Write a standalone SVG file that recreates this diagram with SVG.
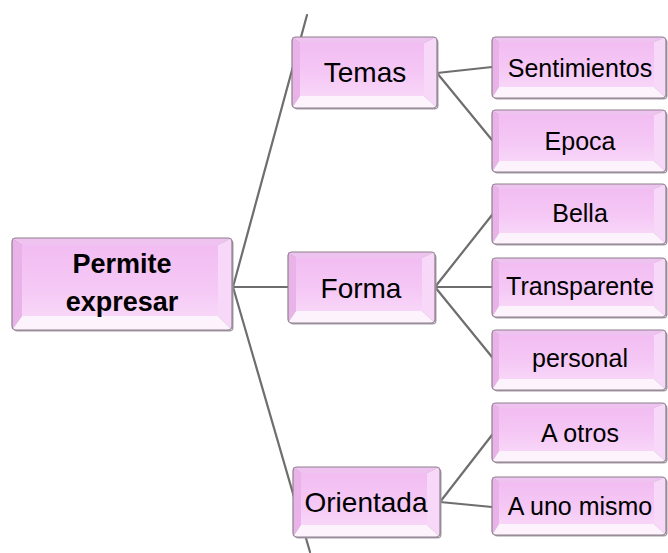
<svg xmlns="http://www.w3.org/2000/svg" width="668" height="553" viewBox="0 0 668 553">
<defs>
<linearGradient id="face" x1="0" y1="0" x2="0" y2="1">
<stop offset="0" stop-color="#f2bdf2"/>
<stop offset="0.6" stop-color="#f5c8f5"/>
<stop offset="1" stop-color="#f8d6f8"/>
</linearGradient>
<style>
.bt{fill:#efc3ef}
.bl{fill:#e9b3e9}
.br{fill:#f8d8f8}
.bb{fill:#fdf3fd}
.fc{fill:url(#face)}
.sh{fill:#a59ba5}
.ol{fill:none;stroke:#8c808c;stroke-width:1.2}
.conn line{stroke:#6e6e6e;stroke-width:2.2;stroke-linecap:round}
text{font-family:"Liberation Sans",Arial,sans-serif;fill:#000;text-anchor:middle}
.leaf{font-size:25px}
.mid{font-size:28px}
.root{font-size:27px;font-weight:bold}
</style>
</defs>
<rect width="668" height="553" fill="#ffffff"/>
<g id="connectors" class="conn">
<line x1="233" y1="287" x2="307" y2="15"/>
<line x1="233" y1="287" x2="310" y2="552"/>
<line x1="233" y1="287" x2="288" y2="287"/>
<line x1="437" y1="73" x2="492" y2="67"/>
<line x1="437" y1="73" x2="492" y2="140"/>
<line x1="435" y1="287" x2="492" y2="215"/>
<line x1="435" y1="287" x2="492" y2="287"/>
<line x1="435" y1="287" x2="492" y2="357"/>
<line x1="440" y1="502" x2="492" y2="435"/>
<line x1="440" y1="502" x2="492" y2="507"/>
</g>
<g id="root">
<rect class="sh" x="13.5" y="239.5" width="220" height="92" rx="4"/>
<polygon class="bt" points="12,238 232,238 218,245 22,245"/>
<polygon class="bl" points="12,238 22,245 22,316 12,330"/>
<polygon class="br" points="232,238 232,330 218,316 218,245"/>
<polygon class="bb" points="12,330 22,316 218,316 232,330"/>
<rect class="fc" x="22" y="245" width="196" height="71"/>
<rect class="ol" x="12" y="238" width="220" height="92" rx="4"/>
<text class="root" x="122" y="273">Permite</text>
<text class="root" x="122" y="311">expresar</text>
</g>
<g id="temas">
<rect class="sh" x="293.5" y="38.5" width="145" height="71" rx="4"/>
<polygon class="bt" points="292,37 437,37 424,43 300,43"/>
<polygon class="bl" points="292,37 300,43 300,96 292,108"/>
<polygon class="br" points="437,37 437,108 424,96 424,43"/>
<polygon class="bb" points="292,108 300,96 424,96 437,108"/>
<rect class="fc" x="300" y="43" width="124" height="53"/>
<rect class="ol" x="292" y="37" width="145" height="71" rx="4"/>
<text class="mid" x="365" y="82">Temas</text>
</g>
<g id="forma">
<rect class="sh" x="289.5" y="253.5" width="147" height="71" rx="4"/>
<polygon class="bt" points="288,252 435,252 422,258 296,258"/>
<polygon class="bl" points="288,252 296,258 296,311 288,323"/>
<polygon class="br" points="435,252 435,323 422,311 422,258"/>
<polygon class="bb" points="288,323 296,311 422,311 435,323"/>
<rect class="fc" x="296" y="258" width="126" height="53"/>
<rect class="ol" x="288" y="252" width="147" height="71" rx="4"/>
<text class="mid" x="361" y="298">Forma</text>
</g>
<g id="orientada">
<rect class="sh" x="294.5" y="468.5" width="147" height="70" rx="4"/>
<polygon class="bt" points="293,467 440,467 427,473 301,473"/>
<polygon class="bl" points="293,467 301,473 301,525 293,537"/>
<polygon class="br" points="440,467 440,537 427,525 427,473"/>
<polygon class="bb" points="293,537 301,525 427,525 440,537"/>
<rect class="fc" x="301" y="473" width="126" height="52"/>
<rect class="ol" x="293" y="467" width="147" height="70" rx="4"/>
<text class="mid" x="366" y="512">Orientada</text>
</g>
<g id="sentimientos">
<rect class="sh" x="493.5" y="38.5" width="174" height="61" rx="4"/>
<polygon class="bt" points="492,37 666,37 654,42 499,42"/>
<polygon class="bl" points="492,37 499,42 499,87 492,98"/>
<polygon class="br" points="666,37 666,98 654,87 654,42"/>
<polygon class="bb" points="492,98 499,87 654,87 666,98"/>
<rect class="fc" x="499" y="42" width="155" height="45"/>
<rect class="ol" x="492" y="37" width="174" height="61" rx="4"/>
<text class="leaf" x="580" y="77">Sentimientos</text>
</g>
<g id="epoca">
<rect class="sh" x="493.5" y="111.5" width="174" height="62" rx="4"/>
<polygon class="bt" points="492,110 666,110 654,115 499,115"/>
<polygon class="bl" points="492,110 499,115 499,161 492,172"/>
<polygon class="br" points="666,110 666,172 654,161 654,115"/>
<polygon class="bb" points="492,172 499,161 654,161 666,172"/>
<rect class="fc" x="499" y="115" width="155" height="46"/>
<rect class="ol" x="492" y="110" width="174" height="62" rx="4"/>
<text class="leaf" x="580" y="150">Epoca</text>
</g>
<g id="bella">
<rect class="sh" x="493.5" y="185.5" width="174" height="60" rx="4"/>
<polygon class="bt" points="492,184 666,184 654,189 499,189"/>
<polygon class="bl" points="492,184 499,189 499,233 492,244"/>
<polygon class="br" points="666,184 666,244 654,233 654,189"/>
<polygon class="bb" points="492,244 499,233 654,233 666,244"/>
<rect class="fc" x="499" y="189" width="155" height="44"/>
<rect class="ol" x="492" y="184" width="174" height="60" rx="4"/>
<text class="leaf" x="580" y="222">Bella</text>
</g>
<g id="transparente">
<rect class="sh" x="493.5" y="259.5" width="174" height="59" rx="4"/>
<polygon class="bt" points="492,258 666,258 654,263 499,263"/>
<polygon class="bl" points="492,258 499,263 499,306 492,317"/>
<polygon class="br" points="666,258 666,317 654,306 654,263"/>
<polygon class="bb" points="492,317 499,306 654,306 666,317"/>
<rect class="fc" x="499" y="263" width="155" height="43"/>
<rect class="ol" x="492" y="258" width="174" height="59" rx="4"/>
<text class="leaf" x="580" y="295">Transparente</text>
</g>
<g id="personal">
<rect class="sh" x="493.5" y="331.5" width="174" height="60" rx="4"/>
<polygon class="bt" points="492,330 666,330 654,335 499,335"/>
<polygon class="bl" points="492,330 499,335 499,379 492,390"/>
<polygon class="br" points="666,330 666,390 654,379 654,335"/>
<polygon class="bb" points="492,390 499,379 654,379 666,390"/>
<rect class="fc" x="499" y="335" width="155" height="44"/>
<rect class="ol" x="492" y="330" width="174" height="60" rx="4"/>
<text class="leaf" x="580" y="367">personal</text>
</g>
<g id="aotros">
<rect class="sh" x="493.5" y="404.5" width="174" height="59" rx="4"/>
<polygon class="bt" points="492,403 666,403 654,408 499,408"/>
<polygon class="bl" points="492,403 499,408 499,451 492,462"/>
<polygon class="br" points="666,403 666,462 654,451 654,408"/>
<polygon class="bb" points="492,462 499,451 654,451 666,462"/>
<rect class="fc" x="499" y="408" width="155" height="43"/>
<rect class="ol" x="492" y="403" width="174" height="59" rx="4"/>
<text class="leaf" x="580" y="442">A otros</text>
</g>
<g id="aunomismo">
<rect class="sh" x="493.5" y="478.5" width="174" height="58" rx="4"/>
<polygon class="bt" points="492,477 666,477 654,482 499,482"/>
<polygon class="bl" points="492,477 499,482 499,524 492,535"/>
<polygon class="br" points="666,477 666,535 654,524 654,482"/>
<polygon class="bb" points="492,535 499,524 654,524 666,535"/>
<rect class="fc" x="499" y="482" width="155" height="42"/>
<rect class="ol" x="492" y="477" width="174" height="58" rx="4"/>
<text class="leaf" x="580" y="515">A uno mismo</text>
</g>
</svg>
